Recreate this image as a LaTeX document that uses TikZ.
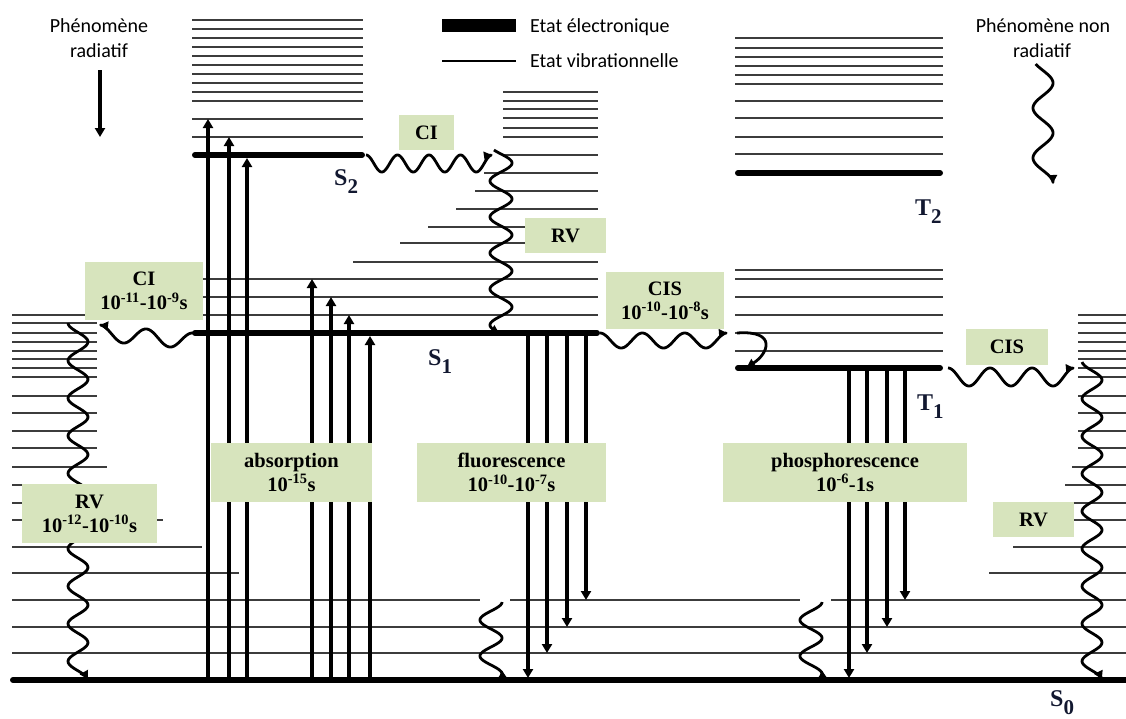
\documentclass[tikz,border=0pt]{standalone}
\usepackage{fontspec}
\setmainfont{Carlito}
\newfontfamily\tnr{Liberation Serif}
\usetikzlibrary{arrows.meta}
\definecolor{boxgreen}{RGB}{215,228,189}
\definecolor{vib}{RGB}{60,60,60}
\definecolor{lbl}{RGB}{18,24,48}
% horizontal wave: xs ys xe ye periods depth
\newcommand{\hwave}[6]{\draw[wavy] plot[domain=0:1, samples=160] ({#1+(#3-#1)*\x}, {#2+(#4-#2)*\x+#6/2*(1-cos(360*#5*\x))});}
% vertical wave: xc ys ye amplitude period phase-y
\newcommand{\vwave}[6]{\draw[wavy] plot[domain=#2:#3, samples=200] ({#1+#4*sin(360/#5*(\x-#6))}, {\x});}
\newcommand{\slab}[2]{#1\raisebox{-8pt}{\fontsize{21}{21}\selectfont #2}}
\begin{document}
\begin{tikzpicture}[x=1pt,y=-1pt,
  vibline/.style={draw=vib, line width=2pt},
  stateline/.style={draw=black, line width=6pt, line cap=round},
  radarrow/.style={draw=black, line width=3.5pt, -{Triangle[length=9pt,width=10pt]}},
  wavy/.style={draw=black, line width=2.8pt, line join=round, -{Triangle[length=8pt,width=9pt]}},
  infobox/.style={fill=boxgreen, inner sep=0pt, align=center, font=\tnr\bfseries\fontsize{20.5}{24}\selectfont},
  slabel/.style={text=lbl, font=\tnr\bfseries\fontsize{24}{24}\selectfont, anchor=base west, inner sep=0pt},
  caption/.style={font=\fontsize{20}{24}\selectfont, inner sep=0pt}
]
\useasboundingbox (0,0) rectangle (1126,718);

% ---------- S2 ----------
\foreach \y in {20,29,38,47,56,65,74,83,92,101,119,137}
  \draw[vibline] (192,\y) -- (363,\y);
\draw[stateline] (195,155) -- (362,155);

% ---------- S1 ----------
\foreach \y/\xs in {92/503,101/503,109/503,118/503,128/503,137/503,155/503,173/484,191/475,209/456,227/428,243/400,262/353,279/195,297/195,315/195}
  \draw[vibline] (\xs,\y) -- (598,\y);
\draw[stateline] (195,333) -- (597,333);

% ---------- T2 ----------
\foreach \y in {38,48,57,66,75,84,101,118,137,154}
  \draw[vibline] (735,\y) -- (943,\y);
\draw[stateline] (738,173) -- (940,173);

% ---------- T1 ----------
\foreach \y in {270,279,297,315,333,351}
  \draw[vibline] (735,\y) -- (943,\y);
\draw[stateline] (738,368) -- (940,368);

% ---------- S0 ----------
\foreach \y/\xe in {315/97,323/97,333/97,342/97,351/97,359/97,368/97,377/97,396/97,413/97,431/97,448/97,467/107,485/120,503/140,520/163,547/202,573/239}
  \draw[vibline] (12,\y) -- (\xe,\y);
\foreach \y/\xs in {315/1078,323/1078,333/1078,342/1078,351/1078,359/1078,368/1078,377/1078,396/1078,413/1078,431/1078,448/1078,467/1072,485/1065,503/1065,520/1045,547/1013,573/989}
  \draw[vibline] (\xs,\y) -- (1126,\y);
\foreach \y in {627,653}
  \draw[vibline] (12,\y) -- (1126,\y);
\draw[vibline] (12,600) -- (480,600);
\draw[vibline] (510,600) -- (800,600);
\draw[vibline] (831,600) -- (1126,600);
\draw[stateline] (13,680) -- (1130,680);

% ---------- legend ----------
\fill (442,19) rectangle (516,32);
\draw[line width=2.7pt] (442,61) -- (516,61);
\node[caption, anchor=base west] (legE) at (530,32) {Etat électronique};
\node[caption, anchor=base west] (legV) at (530,67) {Etat vibrationnelle};
\node[caption, anchor=base] (radA) at (99,32) {Phénomène};
\node[caption, anchor=base] (radB) at (99,57) {radiatif};
\node[caption, anchor=base] (nradA) at (1043,32) {Phénomène non};
\node[caption, anchor=base] (nradB) at (1042,57) {radiatif};
\draw[radarrow] (100,70) -- (100,137);
\vwave{1043}{64}{183}{10}{50}{70.5}

% ---------- absorption ----------
\foreach \x/\y in {208/119,229/137,247/158,312/279,331/297,349/315,370/336}
  \draw[radarrow] (\x,680) -- (\x,\y);

% ---------- fluorescence ----------
\foreach \x/\y in {528/678,547/653,567/627,586/600}
  \draw[radarrow] (\x,333) -- (\x,\y);

% ---------- phosphorescence ----------
\foreach \x/\y in {849/678,867/653,887/627,905/600}
  \draw[radarrow] (\x,368) -- (\x,\y);

% ---------- non radiative waves ----------
\hwave{366}{155}{492}{155}{4}{17}
\vwave{501}{150}{333}{11}{36}{154}
\hwave{193}{333}{100}{325}{2}{16}
\vwave{78}{323}{679}{10}{37.6}{332.4}
\hwave{600}{333}{727}{333}{3}{15}
\draw[wavy] (737,333) .. controls (778,330) and (768,354) .. (747,367);
\hwave{948}{368}{1074}{368}{3}{18}
\vwave{1092}{362}{679}{10}{37.5}{370.6}
\vwave{491}{602}{679}{11}{36}{593}
\vwave{811}{602}{679}{11}{36}{593}

% ---------- boxes ----------
\node[infobox, minimum width=55pt, minimum height=35pt] (ciTop) at (426.5,132.5) {CI};
\node[infobox, minimum width=81pt, minimum height=35pt] (rvTop) at (565.5,235.5) {RV};
\node[infobox, minimum width=118pt, minimum height=58pt] (ciLeft) at (144,291) {CI\\10\textsuperscript{-11}-10\textsuperscript{-9}s};
\node[infobox, minimum width=118pt, minimum height=57pt] (cisMid) at (665,300.5) {CIS\\10\textsuperscript{-10}-10\textsuperscript{-8}s};
\node[infobox, minimum width=82pt, minimum height=36pt] (cisRight) at (1007,347) {CIS};
\node[infobox, minimum width=161pt, minimum height=59pt] (absBox) at (291.5,472.5) {absorption\\10\textsuperscript{-15}s};
\node[infobox, minimum width=189pt, minimum height=59pt] (fluoBox) at (511.5,472.5) {fluorescence\\10\textsuperscript{-10}-10\textsuperscript{-7}s};
\node[infobox, minimum width=244pt, minimum height=59pt] (phosBox) at (845,472.5) {phosphorescence\\10\textsuperscript{-6}-1s};
\node[infobox, minimum width=135pt, minimum height=59pt] (rvLeft) at (89.5,513.5) {RV\\10\textsuperscript{-12}-10\textsuperscript{-10}s};
\node[infobox, minimum width=81pt, minimum height=35pt] (rvRight) at (1033.5,519.5) {RV};

% ---------- state labels ----------
\node[slabel] (lS2) at (334,185) {\slab{S}{2}};
\node[slabel] (lS1) at (428,365) {\slab{S}{1}};
\node[slabel] (lT2) at (915,215) {\slab{T}{2}};
\node[slabel] (lT1) at (917,410) {\slab{T}{1}};
\node[slabel] (lS0) at (1050,706) {\slab{S}{0}};
\end{tikzpicture}
\end{document}
